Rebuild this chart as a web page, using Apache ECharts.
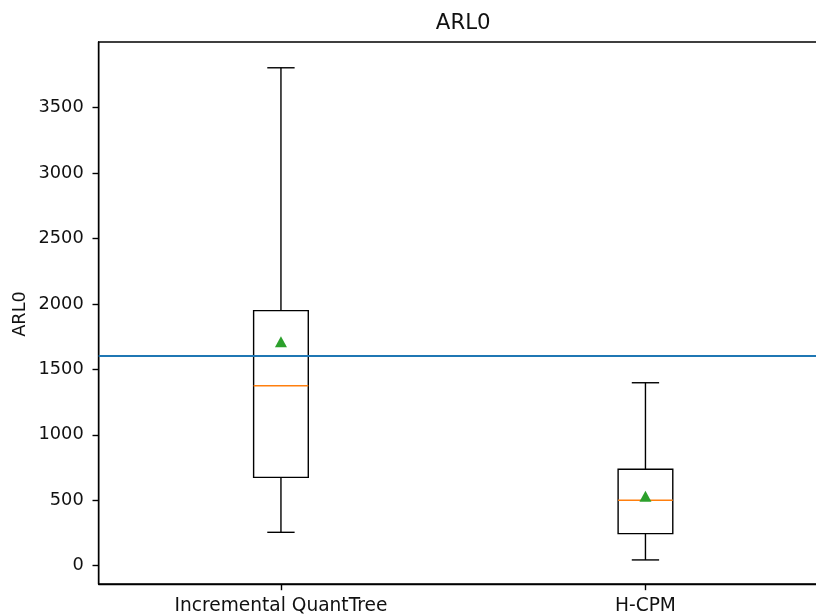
<!DOCTYPE html>
<html>
<head>
<meta charset="utf-8">
<title>ARL0</title>
<script src="https://cdn.jsdelivr.net/npm/echarts@6/dist/echarts.min.js"></script>
<style>
  html, body { margin: 0; padding: 0; background: #fff; }
  #chart { width: 816px; height: 616px; }
</style>
</head>
<body>
<div id="chart"></div>
<script>
// Box-plot statistics per method
const categories = ['Incremental QuantTree', 'H-CPM'];
const whiskerLow = [255, 44];
const q1 = [675, 245];
const median = [1375, 500];
const q3 = [1949, 737];
const whiskerHigh = [3805, 1398];
const means = [1712, 530];
// Target ARL0 reference level
const targetARL0 = 1607;
const yTicks = [0, 500, 1000, 1500, 2000, 2500, 3000, 3500];

const FONT = 'DejaVu Sans';
const LW = 1.4;
const BOX_W = 0.15;

const boxData = categories.map((c, i) => [i + 1, whiskerLow[i], q1[i], median[i], q3[i], whiskerHigh[i]]);
const meanData = categories.map((c, i) => [i + 1, means[i]]);

function renderBox(params, api) {
  const x = api.value(0);
  const lo = api.value(1), b1 = api.value(2), md = api.value(3), b3 = api.value(4), hi = api.value(5);
  const xc = api.coord([x, 0])[0];
  const xl = api.coord([x - BOX_W / 2, 0])[0];
  const xr = api.coord([x + BOX_W / 2, 0])[0];
  const cl = api.coord([x - BOX_W / 4, 0])[0];
  const cr = api.coord([x + BOX_W / 4, 0])[0];
  const y = v => api.coord([x, v])[1];
  const black = { stroke: '#000', lineWidth: LW, fill: null };
  return {
    type: 'group',
    children: [
      { type: 'line', shape: { x1: xc, y1: y(b3), x2: xc, y2: y(hi) }, style: black },
      { type: 'line', shape: { x1: xc, y1: y(b1), x2: xc, y2: y(lo) }, style: black },
      { type: 'line', shape: { x1: cl, y1: y(hi), x2: cr, y2: y(hi) }, style: black },
      { type: 'line', shape: { x1: cl, y1: y(lo), x2: cr, y2: y(lo) }, style: black },
      { type: 'rect', shape: { x: xl, y: y(b3), width: xr - xl, height: y(b1) - y(b3) }, style: black },
      { type: 'line', shape: { x1: xl, y1: y(md), x2: xr, y2: y(md) }, style: { stroke: '#ff7f0e', lineWidth: 1.3 } }
    ]
  };
}

const chart = echarts.init(document.getElementById('chart'), null, { renderer: 'canvas' });
chart.setOption({
  animation: false,
  backgroundColor: '#fff',
  grid: {
    left: 98.7, top: 42, width: 729, height: 542,
    outerBoundsMode: 'none', containLabel: false,
    show: true, borderColor: '#000', borderWidth: LW, backgroundColor: 'transparent'
  },
  xAxis: {
    type: 'value', min: 0.5, max: 2.5,
    axisLine: { show: true, onZero: false, lineStyle: { color: '#000', width: LW } },
    axisTick: { show: true, inside: false, length: 6.2, lineStyle: { color: '#000', width: LW }, customValues: [1, 2] },
    axisLabel: { customValues: [1, 2], formatter: v => categories[Math.round(v) - 1], color: '#111', fontFamily: FONT, fontSize: 18.6, margin: 13 },
    splitLine: { show: false }
  },
  yAxis: {
    type: 'value', min: -140, max: 4002,
    axisLine: { show: true, onZero: false, lineStyle: { color: '#000', width: LW } },
    axisTick: { show: true, inside: false, length: 6.2, lineStyle: { color: '#000', width: LW }, customValues: yTicks },
    axisLabel: { customValues: yTicks, formatter: v => String(v), color: '#111', fontFamily: FONT, fontSize: 17.8, margin: 15 },
    splitLine: { show: false }
  },
  graphic: [
    { type: 'text', x: 463.2, y: 23.5, style: { text: 'ARL0', font: '21.3px "DejaVu Sans"', fill: '#111', align: 'center', verticalAlign: 'middle' } },
    { type: 'text', x: 20.5, y: 314, rotation: Math.PI / 2, style: { text: 'ARL0', font: '17.8px "DejaVu Sans"', fill: '#111', align: 'center', verticalAlign: 'middle' } }
  ],
  series: [
    {
      type: 'custom',
      renderItem: renderBox,
      data: boxData,
      encode: { x: 0, y: [1, 2, 3, 4, 5] },
      z: 2,
      markLine: {
        silent: true, symbol: 'none', z: 5,
        label: { show: false },
        lineStyle: { color: '#1f77b4', width: 1.9, type: 'solid' },
        data: [{ yAxis: targetARL0 }]
      }
    },
    {
      type: 'scatter',
      data: meanData,
      symbol: 'triangle',
      symbolSize: [12, 11],
      itemStyle: { color: '#2ca02c', opacity: 1 },
      z: 6
    }
  ]
});
</script>
</body>
</html>
